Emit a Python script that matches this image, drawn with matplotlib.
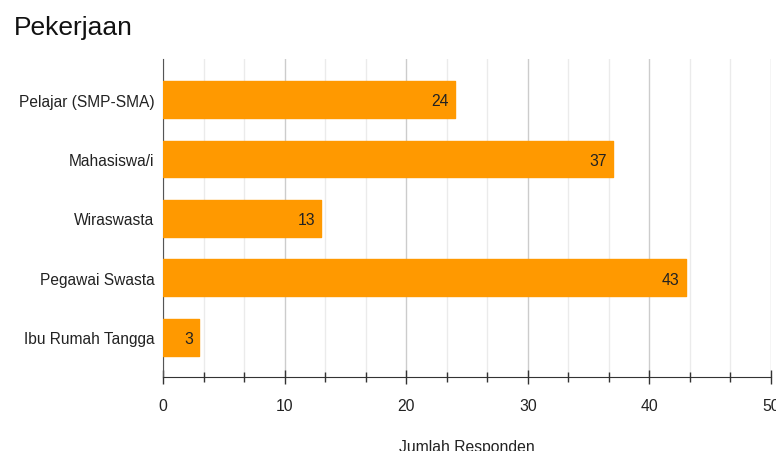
import matplotlib
matplotlib.use('Agg')
import matplotlib.pyplot as plt
from matplotlib.ticker import MultipleLocator

# data
categories = ['Pelajar (SMP-SMA)', 'Mahasiswa/i', 'Wiraswasta', 'Pegawai Swasta', 'Ibu Rumah Tangga']
values = [24, 37, 13, 43, 3]

plt.rcParams['font.family'] = ['Liberation Sans', 'DejaVu Sans']

fig = plt.figure(figsize=(7.76, 4.52), dpi=100)
ax = fig.add_axes([163 / 776, 1 - 378 / 452, 608 / 776, 318 / 452])

ypos = list(range(len(categories)))
ax.barh(ypos, values, height=0.62, color='#ff9900', edgecolor='#ff9900',
        linewidth=1.0, joinstyle='round', zorder=3)

# value labels inside bar ends
for y, v in zip(ypos, values):
    ax.text(v - 0.5, y + 0.02, str(v), ha='right', va='center', fontsize=11.3, color='#222222', zorder=4)

ax.set_xlim(0, 50)
ax.set_ylim(len(categories) - 0.33, -0.685)
ax.set_yticks(ypos)
ax.set_yticklabels(categories, fontsize=11.2, color='#222222')
ax.tick_params(axis='y', length=0, pad=6)

ax.xaxis.set_major_locator(MultipleLocator(10))
ax.xaxis.set_minor_locator(MultipleLocator(10 / 3))
ax.tick_params(axis='x', which='major', direction='inout', length=10, width=1,
               color='#333333', labelsize=11.3, labelcolor='#222222', pad=10)
ax.tick_params(axis='x', which='minor', direction='inout', length=7, width=1, color='#333333')

ax.grid(axis='x', which='major', color='#cccccc', linewidth=1, zorder=0)
ax.grid(axis='x', which='minor', color='#ebebeb', linewidth=1, zorder=0)
ax.set_axisbelow(True)

for s in ['top', 'right']:
    ax.spines[s].set_visible(False)
ax.spines['left'].set_color('#555555')
ax.spines['bottom'].set_color('#333333')

ax.set_xlabel('Jumlah Responden', fontsize=11.3, color='#222222', labelpad=19)

fig.text(14 / 776, 1 - 28 / 452, 'Pekerjaan', fontsize=19, color='#111111', va='center', ha='left')

plt.savefig('out.png', dpi=100)
